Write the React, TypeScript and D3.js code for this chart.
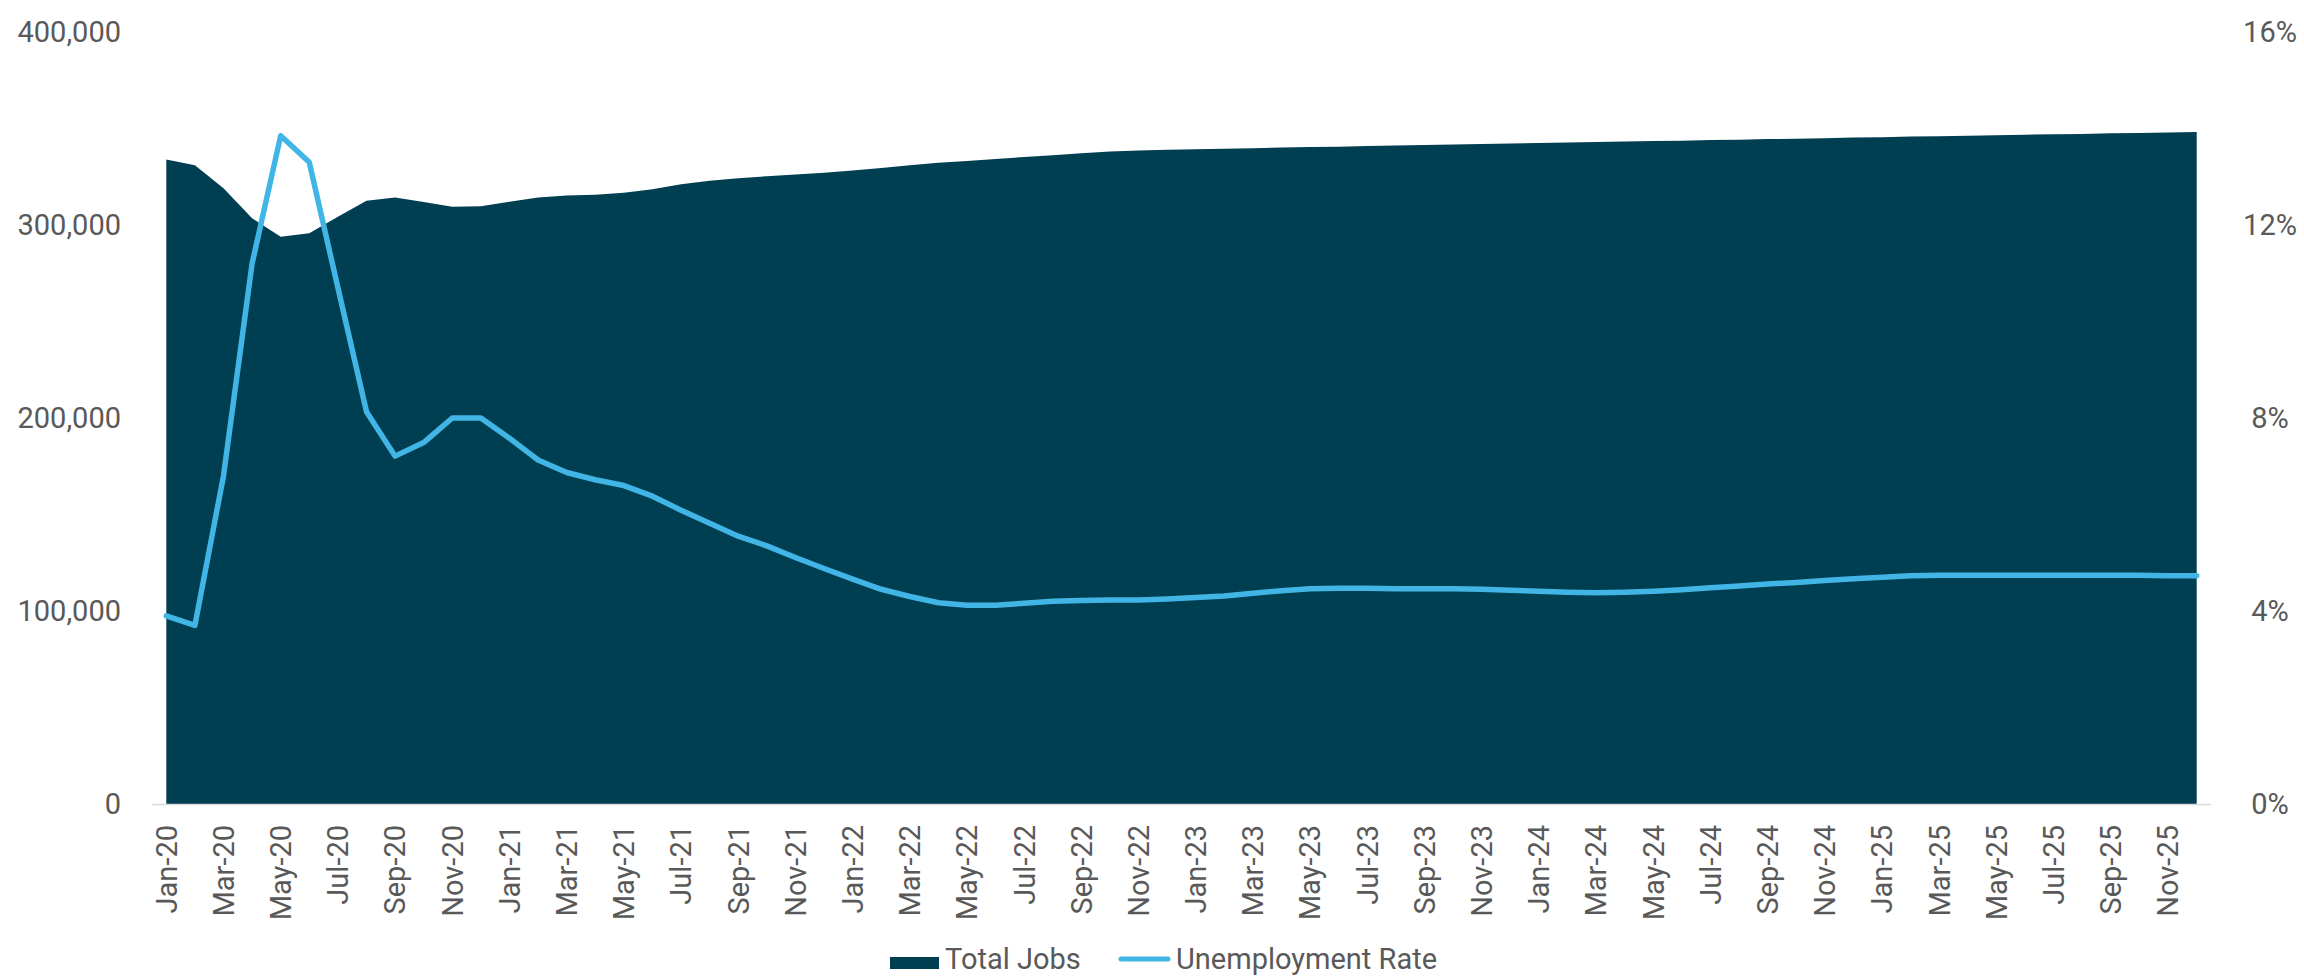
import React from 'react';
import * as d3 from 'd3';

const categories: string[] = [
  'Jan-20','Feb-20','Mar-20','Apr-20','May-20','Jun-20','Jul-20','Aug-20','Sep-20','Oct-20','Nov-20','Dec-20',
  'Jan-21','Feb-21','Mar-21','Apr-21','May-21','Jun-21','Jul-21','Aug-21','Sep-21','Oct-21','Nov-21','Dec-21',
  'Jan-22','Feb-22','Mar-22','Apr-22','May-22','Jun-22','Jul-22','Aug-22','Sep-22','Oct-22','Nov-22','Dec-22',
  'Jan-23','Feb-23','Mar-23','Apr-23','May-23','Jun-23','Jul-23','Aug-23','Sep-23','Oct-23','Nov-23','Dec-23',
  'Jan-24','Feb-24','Mar-24','Apr-24','May-24','Jun-24','Jul-24','Aug-24','Sep-24','Oct-24','Nov-24','Dec-24',
  'Jan-25','Feb-25','Mar-25','Apr-25','May-25','Jun-25','Jul-25','Aug-25','Sep-25','Oct-25','Nov-25','Dec-25',
];

const totalJobs: number[] = [
  334000, 330900, 319000, 303500, 293900, 295700, 304300, 312600, 314300, 311900, 309500, 309700,
  312100, 314300, 315300, 315700, 316700, 318500, 321100, 322900, 324200, 325300, 326200, 327100,
  328200, 329500, 331000, 332200, 333200, 334200, 335200, 336200, 337200, 338100, 338600, 339000,
  339300, 339500, 339800, 340100, 340400, 340600, 340900, 341200, 341400, 341700, 342000, 342200,
  342500, 342700, 343000, 343200, 343500, 343700, 344000, 344200, 344500, 344700, 345000, 345300,
  345500, 345800, 346000, 346300, 346500, 346800, 347000, 347200, 347500, 347700, 347900, 348200,
];

const unemploymentRate: number[] = [
  3.9, 3.7, 6.8, 11.2, 13.85, 13.3, 10.7, 8.13, 7.21, 7.49, 8.0, 8.0,
  7.58, 7.13, 6.87, 6.72, 6.6, 6.38, 6.09, 5.82, 5.55, 5.35, 5.11, 4.88,
  4.66, 4.45, 4.3, 4.17, 4.12, 4.12, 4.16, 4.2, 4.22, 4.23, 4.23, 4.25,
  4.28, 4.31, 4.37, 4.42, 4.46, 4.47, 4.47, 4.46, 4.46, 4.46, 4.45, 4.43,
  4.41, 4.39, 4.38, 4.39, 4.41, 4.44, 4.48, 4.52, 4.56, 4.59, 4.63, 4.67,
  4.7, 4.73, 4.74, 4.74, 4.74, 4.74, 4.74, 4.74, 4.74, 4.74, 4.73, 4.73,
];

const leftTicks: number[] = [0, 100000, 200000, 300000, 400000];
const rightTicks: number[] = [0, 4, 8, 12, 16];
const xTickLabels: string[] = categories.filter((_, i) => i % 2 === 0);

const legendItems = ['Total Jobs', 'Unemployment Rate'];

const AREA_COLOR = '#003E51';
const LINE_COLOR = '#41B6E6';
const TEXT_COLOR = '#595959';
const FONT = "Roboto, 'DejaVu Sans', sans-serif";

export default function App() {
  const W = 2304;
  const H = 980;
  const plotLeft = 152;
  const plotRight = 2211;
  const plotTop = 32;
  const plotBottom = 804;

  const x = d3.scalePoint<string>().domain(categories).range([plotLeft, plotRight]).padding(0.5);
  const yL = d3.scaleLinear().domain([0, 400000]).range([plotBottom, plotTop]);
  const yR = d3.scaleLinear().domain([0, 16]).range([plotBottom, plotTop]);

  const areaGen = d3
    .area<number>()
    .x((_, i) => x(categories[i]) as number)
    .y0(plotBottom)
    .y1((d) => yL(d));
  const lineGen = d3
    .line<number>()
    .x((_, i) => x(categories[i]) as number)
    .y((d) => yR(d));

  const fmtLeft = d3.format(',');
  const fs = 29;

  return (
    <svg
      width={W}
      height={H}
      viewBox={`0 0 ${W} ${H}`}
      style={{ position: 'absolute', left: 0, top: 0, background: '#fff' }}
      fontFamily={FONT}
    >
      <rect x={0} y={0} width={W} height={H} fill="#fff" />
      <path d={areaGen(totalJobs) || ''} fill={AREA_COLOR} />
      <line x1={plotLeft} x2={plotRight} y1={plotBottom + 0.5} y2={plotBottom + 0.5} stroke="#D9D9D9" strokeWidth={1.5} />
      <path
        d={lineGen(unemploymentRate) || ''}
        fill="none"
        stroke={LINE_COLOR}
        strokeWidth={5.5}
        strokeLinejoin="round"
        strokeLinecap="round"
      />
      {leftTicks.map((t) => (
        <text key={'l' + t} x={121} y={yL(t)} dy="0.355em" textAnchor="end" fontSize={fs} fill={TEXT_COLOR}>
          {fmtLeft(t)}
        </text>
      ))}
      {rightTicks.map((t) => (
        <text key={'r' + t} x={2270} y={yR(t)} dy="0.355em" textAnchor="middle" fontSize={fs} fill={TEXT_COLOR}>
          {t + '%'}
        </text>
      ))}
      {xTickLabels.map((c) => (
        <text
          key={c}
          transform={`translate(${x(c)},825) rotate(-90)`}
          dy="0.355em"
          textAnchor="end"
          fontSize={fs}
          fill={TEXT_COLOR}
        >
          {c}
        </text>
      ))}
      <g>
        <rect x={890} y={957} width={49} height={12} fill={AREA_COLOR} />
        <text x={945} y={969} fontSize={fs} fill={TEXT_COLOR}>
          {legendItems[0]}
        </text>
        <line x1={1121} x2={1168} y1={959} y2={959} stroke={LINE_COLOR} strokeWidth={5} strokeLinecap="round" />
        <text x={1176} y={969} fontSize={fs} fill={TEXT_COLOR}>
          {legendItems[1]}
        </text>
      </g>
    </svg>
  );
}
